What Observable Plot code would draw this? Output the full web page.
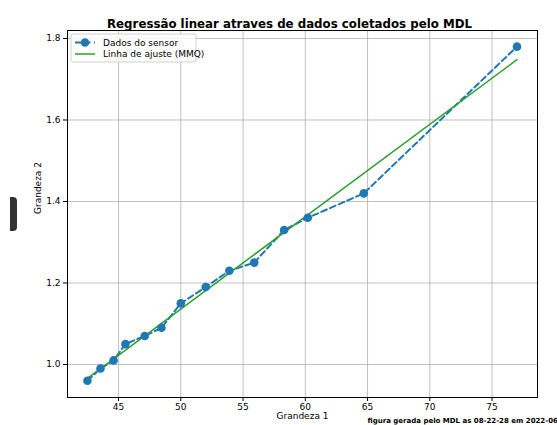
<!DOCTYPE html>
<html><head><meta charset="utf-8">
<script src="https://cdn.jsdelivr.net/npm/d3@7"></script>
<script src="https://cdn.jsdelivr.net/npm/@observablehq/plot@0.6"></script>
<style>
html,body{margin:0;padding:0;background:#fff;overflow:hidden;}
#wrap{position:relative;width:557px;height:425px;}
#blk{position:absolute;left:10px;top:197px;width:7px;height:34px;background:#333;border-radius:0 4px 4px 0;}
</style></head>
<body><div id="wrap"><div id="blk"></div><div id="chart"></div></div>
<script>
const sensorX = [42.5, 43.55, 44.6, 45.55, 47.1, 48.45, 50.0, 52.0, 53.9, 55.9, 58.3, 60.2, 64.7, 77.0];
const sensorY = [0.96, 0.99, 1.01, 1.05, 1.07, 1.09, 1.15, 1.19, 1.23, 1.25, 1.33, 1.36, 1.42, 1.78];
const fitX = [42.5, 77.0];
const fitY = [0.966, 1.748];
const xTicks = [45, 50, 55, 60, 65, 70, 75];
const yTicks = [1.0, 1.2, 1.4, 1.6, 1.8];
const title = "Regressão linear atraves de dados coletados pelo MDL";
const xLabel = "Grandeza 1";
const yLabel = "Grandeza 2";
const caption = "figura gerada pelo MDL as 08-22-28 em 2022-06-08";
const legendLabels = ["Dados do sensor", "Linha de ajuste (MMQ)"];

const blue = "#1f77b4", green = "#2ca02c";
const sensor = sensorX.map((x, i) => ({x, y: sensorY[i]}));
const fit = fitX.map((x, i) => ({x, y: fitY[i]}));
const font = "DejaVu Sans, sans-serif";

const plot = Plot.plot({
  width: 557, height: 425,
  marginLeft: 67, marginRight: 20, marginTop: 30, marginBottom: 28,
  style: {fontFamily: font, fontSize: "9px", color: "#000", background: "#fff"},
  x: {domain: [40.9, 78.65], ticks: xTicks, label: null},
  y: {domain: [0.919, 1.8196], ticks: yTicks, label: null},
  marks: [
    Plot.gridX(xTicks, {stroke: "#b0b0b0", strokeOpacity: 1, strokeWidth: 0.8}),
    Plot.gridY(yTicks, {stroke: "#b0b0b0", strokeOpacity: 1, strokeWidth: 0.8}),
    Plot.axisX(xTicks, {tickSize: 4, tickPadding: 2, fontSize: 9, tickFormat: d => String(d)}),
    Plot.axisY(yTicks, {tickSize: 4, tickPadding: 3, fontSize: 9, tickFormat: d => d.toFixed(1)}),
    Plot.line(sensor, {x: "x", y: "y", stroke: blue, strokeWidth: 2, strokeDasharray: "6,3.5"}),
    Plot.line(fit, {x: "x", y: "y", stroke: green, strokeWidth: 1.5}),
    Plot.dot(sensor, {x: "x", y: "y", r: 4.3, fill: blue, stroke: "none"}),
    Plot.frame({stroke: "#000", strokeWidth: 1}),
    Plot.text([title], {frameAnchor: "top", dx: -13, dy: -11, fontSize: 11.8, fontWeight: "bold", text: d => d}),
    Plot.text([xLabel], {frameAnchor: "bottom", dy: 21, fontSize: 9, text: d => d}),
    Plot.text([yLabel], {frameAnchor: "left", dx: -29, rotate: -90, fontSize: 9, text: d => d}),
    Plot.text([caption], {frameAnchor: "bottom-left", dx: 300, dy: 25, fontSize: 7, fontWeight: "bold", textAnchor: "start", text: d => d})
  ]
});
document.getElementById("chart").appendChild(plot);

// legend
const svg = d3.select(plot);
const g = svg.append("g").attr("transform", "translate(71,34)").attr("font-family", font).attr("font-size", 9).attr("text-anchor", "start");
g.append("rect").attr("x", 0).attr("y", 0).attr("width", 125).attr("height", 28).attr("rx", 2)
  .attr("fill", "#fff").attr("fill-opacity", 0.85).attr("stroke", "#d0d0d0");
g.append("line").attr("x1", 4).attr("x2", 24).attr("y1", 8.5).attr("y2", 8.5).attr("stroke", blue).attr("stroke-width", 2).attr("stroke-dasharray", "6,3.5");
g.append("circle").attr("cx", 14).attr("cy", 8.5).attr("r", 4.3).attr("fill", blue);
g.append("line").attr("x1", 4).attr("x2", 24).attr("y1", 20).attr("y2", 20).attr("stroke", green).attr("stroke-width", 1.5);
g.append("text").attr("x", 32).attr("y", 8.5).attr("dy", "0.35em").attr("text-anchor", "start").text(legendLabels[0]);
g.append("text").attr("x", 32).attr("y", 20).attr("dy", "0.35em").attr("text-anchor", "start").text(legendLabels[1]);
</script>
</body></html>
